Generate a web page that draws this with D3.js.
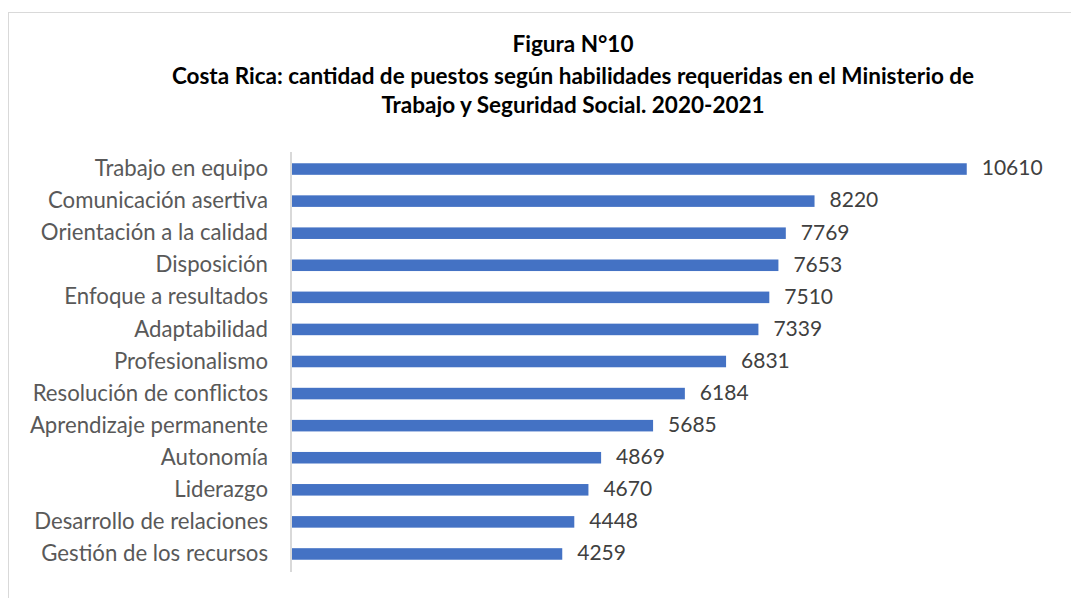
<!DOCTYPE html>
<html><head><meta charset="utf-8">
<script src="https://cdn.jsdelivr.net/npm/d3@7"></script>
<style>body{margin:0;background:#fff;}svg{display:block;}</style>
</head><body>
<svg id="c" width="1071" height="598"></svg>
<script>
const categories = ["Trabajo en equipo","Comunicación asertiva","Orientación a la calidad","Disposición","Enfoque a resultados","Adaptabilidad","Profesionalismo","Resolución de conflictos","Aprendizaje permanente","Autonomía","Liderazgo","Desarrollo de relaciones","Gestión de los recursos"];
const values = [10610,8220,7769,7653,7510,7339,6831,6184,5685,4869,4670,4448,4259];
const titleLines = ["Figura N°10","Costa Rica: cantidad de puestos según habilidades requeridas en el Ministerio de","Trabajo y Seguridad Social. 2020-2021"];

const svg = d3.select("#c");
const font = "Lato, 'Open Sans', sans-serif";
// frame
svg.append("rect").attr("x",8.5).attr("y",12.5).attr("width",1100).attr("height",700)
  .attr("fill","#fff").attr("stroke","#d9d9d9").attr("stroke-width",1);

const x = d3.scaleLinear().domain([0,12000]).range([291,291+12000*0.06369]);
const y = d3.scaleBand().domain(categories).range([153,570]).paddingInner(0.64).paddingOuter(0.32);

// title
const tY = [46,78,107];
titleLines.forEach((t,i)=>{
  svg.append("text").attr("x",573).attr("y",tY[i]).attr("text-anchor","middle")
    .attr("dominant-baseline","middle")
    .attr("font-family",font).attr("font-weight","bold")
    .attr("font-size",22.5).attr("fill","#000").text(t);
});

// bars
svg.append("g").selectAll("rect").data(values).join("rect")
  .attr("x",x(0)).attr("y",(d,i)=>y(categories[i]))
  .attr("width",d=>x(d)-x(0)).attr("height",y.bandwidth())
  .attr("fill","#4472c4");

// axis line
const ax = svg.append("g").attr("transform",`translate(${x(0)},0)`)
  .call(d3.axisLeft(y).tickSize(0).tickPadding(23));
ax.select(".domain").attr("stroke","#d9d9d9").attr("stroke-width",2).attr("d",`M0,152V572`);
ax.selectAll("text").attr("font-family",font).attr("font-size",22.2).attr("fill","#595959");

// value labels
svg.append("g").selectAll("text").data(values).join("text")
  .attr("x",d=>x(d)+15).attr("y",(d,i)=>y(categories[i])+y.bandwidth()/2+1)
  .attr("dominant-baseline","middle")
  .attr("font-family",font).attr("font-size",21).attr("fill","#404040").text(d=>d);
</script>
</body></html>
